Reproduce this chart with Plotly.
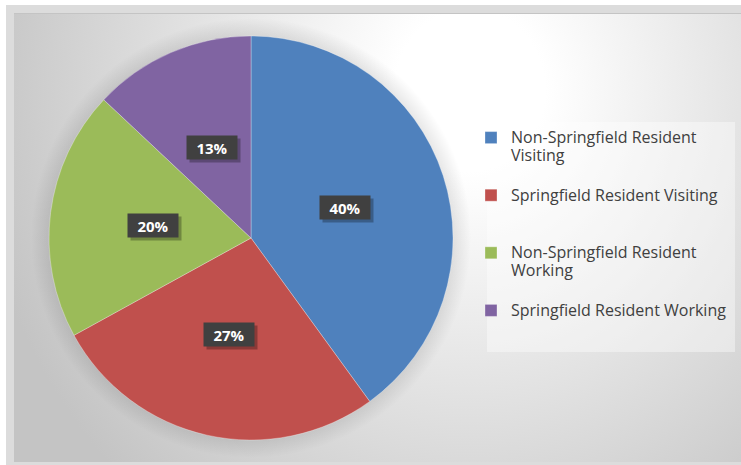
import numpy as np
import plotly.graph_objects as go

# ---- data ----
categories = ["Non-Springfield Resident Visiting", "Springfield Resident Visiting",
              "Non-Springfield Resident Working", "Springfield Resident Working"]
legend_lines = [["Non-Springfield Resident", "Visiting", " "],
                ["Springfield Resident Visiting", " ", " "],
                ["Non-Springfield Resident", "Working", " "],
                ["Springfield Resident Working", " ", " "]]
shares = [40, 27, 20, 13]
colors = ["#4f81bd", "#c0504d", "#9bbb59", "#8064a2"]

legend_labels = ["<br>".join(f'<span style="font-size:16px">{ln}</span>' for ln in lines)
                 for lines in legend_lines]

# ---- layout constants (pixels) ----
W, H = 741, 465
CX, CY, R = 251, 238, 202
IN_X0, IN_X1, IN_Y0, IN_Y1 = 14, 741, 14, 462

fig = go.Figure()

# background radial gradient for the chart area
gx0, gx1 = 470 - 500, 470 + 500
gy0, gy1 = 90 - 540, 90 + 540
fig.add_trace(go.Scatter(
    x=[gx0, gx1, gx1, gx0, gx0], y=[gy0, gy0, gy1, gy1, gy0],
    mode="lines", line=dict(width=0), fill="toself",
    fillgradient=dict(type="radial", colorscale=[[0, "#ffffff"], [0.15, "#ffffff"], [1, "#c4c4c4"]]),
    hoverinfo="skip", showlegend=False))

# soft halo around the pie
t = np.linspace(0, 2 * np.pi, 181)
RH = R + 18
fig.add_trace(go.Scatter(
    x=CX + RH * np.cos(t), y=CY + RH * np.sin(t),
    mode="lines", line=dict(width=0), fill="toself",
    fillgradient=dict(type="radial", colorscale=[[0, "rgba(0,0,0,0.10)"], [R / RH, "rgba(0,0,0,0.09)"], [1, "rgba(0,0,0,0)"]]),
    hoverinfo="skip", showlegend=False))

fig.add_trace(go.Pie(
    labels=legend_labels, values=shares, sort=False, direction="clockwise", rotation=0,
    marker=dict(colors=colors, line=dict(color="rgba(255,255,255,0.3)", width=1)),
    textinfo="none", hoverinfo="percent", customdata=categories,
    domain=dict(x=[(CX - R) / W, (CX + R) / W], y=[1 - (CY + R) / H, 1 - (CY - R) / H]),
))

# data labels (dark boxes with a soft drop shadow)
total = sum(shares)
annotations = []
cum = 0
for v in shares:
    mid = (cum + v / 2) / total * 2 * np.pi
    cum += v
    ax = CX + 0.49 * R * np.sin(mid)
    ay = CY - 0.49 * R * np.cos(mid)
    txt = f"{round(v / total * 100)}%"
    annotations.append(dict(x=ax, y=ay, xref="x", yref="y", text=" ", showarrow=False,
                            xshift=3, yshift=-3, width=48, height=21,
                            bgcolor="rgba(0,0,0,0.28)", font=dict(size=15)))
    annotations.append(dict(x=ax, y=ay, xref="x", yref="y", text=f"<b>{txt}</b>", showarrow=False,
                            width=48, height=21, bgcolor="#404040",
                            font=dict(color="#ffffff", size=15, family="Open Sans")))

fig.update_layout(
    width=W, height=H, margin=dict(l=0, r=0, t=0, b=0),
    paper_bgcolor="#ffffff", plot_bgcolor="rgba(0,0,0,0)",
    xaxis=dict(domain=[IN_X0 / W, IN_X1 / W], range=[IN_X0, IN_X1], visible=False, fixedrange=True),
    yaxis=dict(domain=[1 - IN_Y1 / H, 1 - IN_Y0 / H], range=[IN_Y1, IN_Y0], visible=False, fixedrange=True),
    shapes=[dict(type="rect", xref="paper", yref="paper", x0=6 / W, x1=1.01, y0=-0.01, y1=1 - 5 / H,
                 fillcolor="#dcdcdc", line=dict(width=0), layer="below"),
            dict(type="line", xref="paper", yref="paper", x0=IN_X0 / W, x1=1, y0=1 - 13.5 / H, y1=1 - 13.5 / H,
                 line=dict(color="#c4c4c4", width=1), layer="above"),
            dict(type="rect", xref="paper", yref="paper", x0=487 / W, x1=735 / W, y0=1 - 352 / H, y1=1 - 122 / H,
                 fillcolor="rgba(255,255,255,0.4)", line=dict(width=0), layer="above")],
    legend=dict(x=471 / W, y=1 - 122 / H, xanchor="left", yanchor="top",
                bgcolor="rgba(0,0,0,0)", borderwidth=0, valign="top",
                font=dict(family="Open Sans", size=14, color="#404040"), traceorder="normal"),
    annotations=annotations,
    showlegend=True,
)

fig.write_html("out.html", config={"displayModeBar": False},
               post_script="document.body.style.margin='0';document.body.style.overflow='hidden';")
